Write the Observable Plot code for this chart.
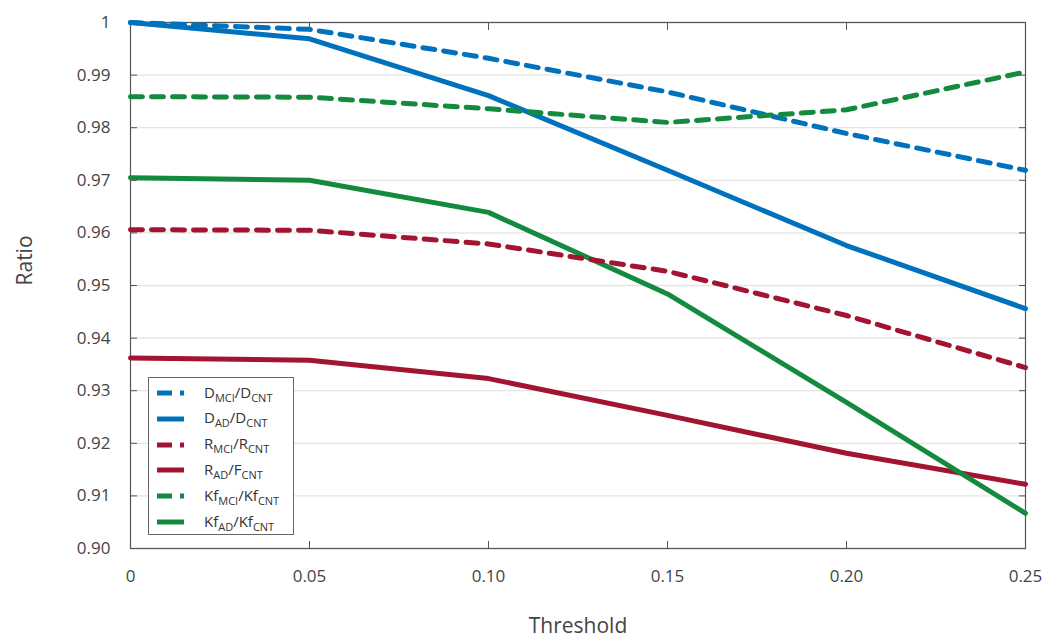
<!DOCTYPE html>
<html><head><meta charset="utf-8">
<script src="https://cdn.jsdelivr.net/npm/d3@7"></script>
<script src="https://cdn.jsdelivr.net/npm/@observablehq/plot@0.6"></script>
<style>
body{margin:0;background:#fff;font-family:"Open Sans",sans-serif}
#wrap{position:relative;width:1054px;height:639px}
#legend{position:absolute;left:148px;top:377px;width:146px;height:158px;border:1px solid #666;background:#fff;box-sizing:border-box;font-size:15px;color:#333}
.row{position:absolute;left:8px;height:20px;display:flex;align-items:center}
.row svg{width:30px;height:8px;margin-right:17px}
sub{font-size:11px;vertical-align:-4px}
</style>
</head><body><div id="wrap"></div>
<script>
const thresholds = [0, 0.05, 0.10, 0.15, 0.20, 0.25];
const D_MCI  = [1.0000, 0.9987, 0.9932, 0.9868, 0.9789, 0.9719];
const D_AD   = [1.0000, 0.9969, 0.9861, 0.9719, 0.9576, 0.9456];
const R_MCI  = [0.9606, 0.9605, 0.9579, 0.9527, 0.9443, 0.9344];
const R_AD   = [0.9362, 0.9358, 0.9323, 0.9253, 0.9181, 0.9122];
const Kf_MCI = [0.9859, 0.9858, 0.9836, 0.9810, 0.9834, 0.9906];
const Kf_AD  = [0.9705, 0.9700, 0.9639, 0.9484, 0.9278, 0.9067];
const seriesKeys = ["D_MCI","D_AD","R_MCI","R_AD","Kf_MCI","Kf_AD"];
const seriesValues = [D_MCI, D_AD, R_MCI, R_AD, Kf_MCI, Kf_AD];
const legendLabels = [
  "D<sub>MCI</sub>/D<sub>CNT</sub>",
  "D<sub>AD</sub>/D<sub>CNT</sub>",
  "R<sub>MCI</sub>/R<sub>CNT</sub>",
  "R<sub>AD</sub>/F<sub>CNT</sub>",
  "Kf<sub>MCI</sub>/Kf<sub>CNT</sub>",
  "Kf<sub>AD</sub>/Kf<sub>CNT</sub>"
];
const xTicks = [0, 0.05, 0.10, 0.15, 0.20, 0.25];
const yTicks = [0.90, 0.91, 0.92, 0.93, 0.94, 0.95, 0.96, 0.97, 0.98, 0.99, 1.00];
const xTitle = "Threshold";
const yTitle = "Ratio";

// styles
const colors = ["#0072BD","#0072BD","#A2142F","#A2142F","#138A3E","#138A3E"];
const dashedSet = new Set(["D_MCI","R_MCI","Kf_MCI"]);

const data = [];
seriesKeys.forEach((k, i) => thresholds.forEach((t, j) => data.push({series: k, t, v: seriesValues[i][j]})));

const fmtX = d => d === 0 ? "0" : d.toFixed(2);
const fmtY = d => d === 1 ? "1" : d.toFixed(2);

const chart = Plot.plot({
  width: 1054, height: 639,
  marginLeft: 130, marginRight: 29, marginTop: 22, marginBottom: 91,
  style: {fontFamily: "'Open Sans', sans-serif", color: "#444", background: "#fff"},
  x: {domain: [0, 0.25]},
  y: {domain: [0.90, 1.0]},
  color: {domain: seriesKeys, range: colors},
  marks: [
    Plot.gridY(yTicks, {stroke: "#e4e4e4", strokeOpacity: 1, strokeWidth: 1.3}),
    Plot.frame({stroke: "#555", strokeWidth: 1.2}),
    Plot.axisY(yTicks, {anchor: "left", tickSize: -7, tickPadding: 27, tickFormat: fmtY, fontSize: 17, stroke: "#555", label: null}),
    Plot.axisY(yTicks, {anchor: "right", tickSize: -7, tickFormat: () => "", label: null, stroke: "#555"}),
    Plot.axisX(xTicks, {anchor: "bottom", tickSize: -7, tickPadding: 28, tickFormat: fmtX, fontSize: 17, stroke: "#555", label: null}),
    Plot.axisX(xTicks, {anchor: "top", tickSize: -7, tickFormat: () => "", label: null, stroke: "#555"}),
    Plot.text([yTitle], {frameAnchor: "left", dx: -105, rotate: -90, fontSize: 21, fill: "#444"}),
    Plot.text([xTitle], {frameAnchor: "bottom", dy: 84, fontSize: 21, fill: "#444"}),
    Plot.line(data.filter(d => !dashedSet.has(d.series)), {x: "t", y: "v", z: "series", stroke: "series", strokeWidth: 5}),
    Plot.line(data.filter(d => dashedSet.has(d.series)), {x: "t", y: "v", z: "series", stroke: "series", strokeWidth: 5, strokeDasharray: "12,9"})
  ]
});
const wrap = document.getElementById("wrap");
wrap.appendChild(chart);

const legend = document.createElement("div");
legend.id = "legend";
seriesKeys.forEach((k, i) => {
  const row = document.createElement("div");
  row.className = "row";
  row.style.top = (5 + i * 25.8) + "px";
  const dash = dashedSet.has(k) ? 'stroke-dasharray="15,8"' : '';
  row.innerHTML = `<svg viewBox="0 0 30 8"><line x1="0" y1="4" x2="27" y2="4" stroke="${colors[i]}" stroke-width="5" ${dash}/></svg><span>${legendLabels[i]}</span>`;
  legend.appendChild(row);
});
wrap.appendChild(legend);
</script>
</body></html>
